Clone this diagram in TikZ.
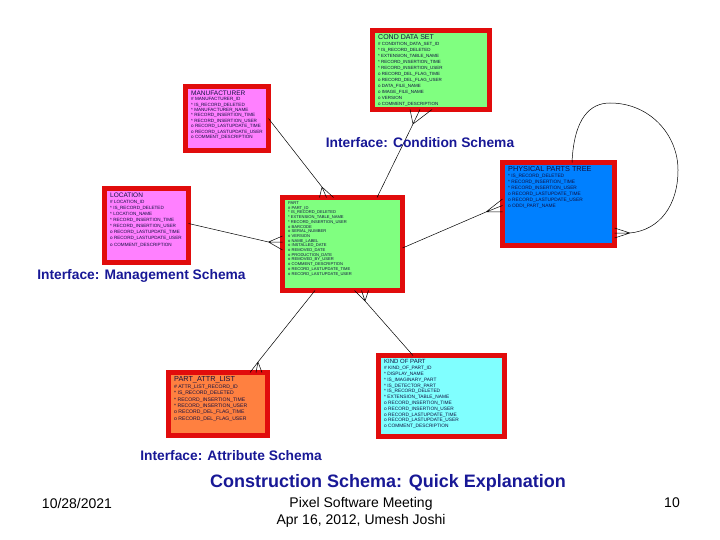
\documentclass[tikz,border=0pt]{standalone}
\usepackage{fontspec}
\setmainfont{Liberation Sans}
\definecolor{boxred}{RGB}{225,12,12}
\definecolor{condgreen}{RGB}{128,255,128}
\definecolor{mfgpink}{RGB}{255,128,255}
\definecolor{treeblue}{RGB}{0,128,255}
\definecolor{attrorange}{RGB}{255,128,64}
\definecolor{kindcyan}{RGB}{128,255,255}
\definecolor{labelblue}{RGB}{24,24,150}
\definecolor{rowink}{RGB}{16,16,64}
\begin{document}
\begin{tikzpicture}[x=1pt,y=-1pt]

    \tikzset{
      entity/.style={
        draw=boxred,
        line width=5pt,
        rectangle,
        inner sep=0pt,
        outer sep=0pt,
      },
      rows/.style={
        anchor=north west,
        inner sep=0pt,
        align=left,
        text=rowink,
      },
      link/.style={
        color=black,
        line width=0.5pt,
      },
      schema/.style={
        text=labelblue,
        font=\bfseries\fontsize{13.8}{16}\selectfont,
      },
      footer/.style={
        font=\fontsize{14}{17}\selectfont,
      },
    }
    \useasboundingbox (0,0) rectangle (720,540);

	% tables
	\node[entity, fill=condgreen, minimum width=117pt, minimum height=79pt] (cond) at (431,70) {};
	\node[rows, font=\fontsize{4.5}{6}\selectfont] (cond-rows) at ([shift={(5.5,4)}]cond.north west) {{\fontsize{7}{7}\selectfont COND DATA SET}\\\# CONDITION\_DATA\_SET\_ID\\* IS\_RECORD\_DELETED\\* EXTENSION\_TABLE\_NAME\\* RECORD\_INSERTION\_TIME\\* RECORD\_INSERTION\_USER\\o RECORD\_DEL\_FLAG\_TIME\\o RECORD\_DEL\_FLAG\_USER\\o DATA\_FILE\_NAME\\o IMAGE\_FILE\_NAME\\o VERSION\\o COMMENT\_DESCRIPTION};

	\node[entity, fill=mfgpink, minimum width=83pt, minimum height=64pt] (manuf) at (227,118.5) {};
	\node[rows, font=\fontsize{4.6}{5.4}\selectfont] (manuf-rows) at ([shift={(5.5,4)}]manuf.north west) {{\fontsize{6.5}{6.5}\selectfont MANUFACTURER}\\\# MANUFACTURER\_ID\\* IS\_RECORD\_DELETED\\* MANUFACTURER\_NAME\\* RECORD\_INSERTION\_TIME\\* RECORD\_INSERTION\_USER\\o RECORD\_LASTUPDATE\_TIME\\o RECORD\_LASTUPDATE\_USER\\o COMMENT\_DESCRIPTION};

	\node[entity, fill=mfgpink, minimum width=84pt, minimum height=74pt] (loc) at (146.5,225.5) {};
	\node[rows, font=\fontsize{4.6}{6.1}\selectfont] (loc-rows) at ([shift={(5.5,4)}]loc.north west) {{\fontsize{6.5}{6.5}\selectfont LOCATION}\\\# LOCATION\_ID\\* IS\_RECORD\_DELETED\\* LOCATION\_NAME\\* RECORD\_INSERTION\_TIME\\* RECORD\_INSERTION\_USER\\o RECORD\_LASTUPDATE\_TIME\\o RECORD\_LASTUPDATE\_USER\\o COMMENT\_DESCRIPTION};

	\node[entity, fill=condgreen, minimum width=120pt, minimum height=93pt] (part) at (342.5,244) {};
	\node[rows, font=\fontsize{4.1}{4.7}\selectfont] (part-rows) at ([shift={(5.5,4)}]part.north west) {PART\\\# PART\_ID\\* IS\_RECORD\_DELETED\\* EXTENSION\_TABLE\_NAME\\* RECORD\_INSERTION\_USER\\o BARCODE\\o SERIAL\_NUMBER\\o VERSION\\o NAME\_LABEL\\o INSTALLED\_DATE\\o REMOVED\_DATE\\o PRODUCTION\_DATE\\o REMOVED\_BY\_USER\\o COMMENT\_DESCRIPTION\\o RECORD\_LASTUPDATE\_TIME\\o RECORD\_LASTUPDATE\_USER};

	\node[entity, fill=treeblue, minimum width=112pt, minimum height=83pt] (ptree) at (558.5,204) {};
	\node[rows, font=\fontsize{4.8}{6}\selectfont] (ptree-rows) at ([shift={(5.5,4)}]ptree.north west) {{\fontsize{7.3}{7.3}\selectfont PHYSICAL PARTS TREE}\\* IS\_RECORD\_DELETED\\* RECORD\_INSERTION\_TIME\\* RECORD\_INSERTION\_USER\\o RECORD\_LASTUPDATE\_TIME\\o RECORD\_LASTUPDATE\_USER\\o ODDI\_PART\_NAME};

	\node[entity, fill=attrorange, minimum width=99pt, minimum height=63pt] (attr) at (218,404) {};
	\node[rows, font=\fontsize{5.1}{6.4}\selectfont] (attr-rows) at ([shift={(5.5,4)}]attr.north west) {{\fontsize{7.3}{7.3}\selectfont PART\_ATTR\_LIST}\\\# ATTR\_LIST\_RECORD\_ID\\* IS\_RECORD\_DELETED\\* RECORD\_INSERTION\_TIME\\* RECORD\_INSERTION\_USER\\o RECORD\_DEL\_FLAG\_TIME\\o RECORD\_DEL\_FLAG\_USER};

	\node[entity, fill=kindcyan, minimum width=126pt, minimum height=81pt] (kind) at (441.5,396) {};
	\node[rows, font=\fontsize{4.8}{5.8}\selectfont] (kind-rows) at ([shift={(5.5,4)}]kind.north west) {{\fontsize{6}{6}\selectfont KIND OF PART}\\\# KIND\_OF\_PART\_ID\\* DISPLAY\_NAME\\* IS\_IMAGINARY\_PART\\* IS\_DETECTOR\_PART\\* IS\_RECORD\_DELETED\\* EXTENSION\_TABLE\_NAME\\o RECORD\_INSERTION\_TIME\\o RECORD\_INSERTION\_USER\\o RECORD\_LASTUPDATE\_TIME\\o RECORD\_LASTUPDATE\_USER\\o COMMENT\_DESCRIPTION};

	% relations, crow's foot at the many end
	\coordinate (mp) at ([shift={(-20.5,-10.5)}]part.north);
	\draw[link] (manuf.east) -- (mp);
	\draw[link] (mp) -- ([xshift=-23]part.north) (mp) -- ([xshift=-16]part.north) (mp) -- ([xshift=-9]part.north);

	\coordinate (cp) at ([shift={(-18,14.5)}]cond.south);
	\draw[link] (cp) -- ([xshift=34.5]part.north);
	\draw[link] (cp) -- ([xshift=-21]cond.south) (cp) -- ([xshift=-11]cond.south) (cp) -- ([xshift=1]cond.south);

	\coordinate (lp) at ([shift={(-14,-2)}]part.west);
	\draw[link] ([yshift=2]loc.east) -- (lp);
	\draw[link] (lp) -- ([yshift=8]part.west) (lp) -- ([yshift=2]part.west) (lp) -- ([yshift=-6]part.west);

	\coordinate (pt) at ([shift={(-16.5,8)}]ptree.west);
	\draw[link] ([yshift=-4]part.east) -- (pt);
	\draw[link] (pt) -- ([yshift=5]ptree.west) (pt) -- ([yshift=-1.5]ptree.west) (pt) -- ([yshift=-8]ptree.west);

	\coordinate (tt) at ([shift={(15.5,29)}]ptree.east);
	\draw[link] ([xshift=13.5]ptree.north) .. controls (574,118) and (590,103) .. (610,103) .. controls (650,103) and (678,135) .. (678,170) .. controls (678,205) and (660,230) .. (tt);
	\draw[link] (tt) -- ([yshift=-24]ptree.east) (tt) -- ([yshift=-29]ptree.east) (tt) -- ([yshift=-34]ptree.east);

	\coordinate (ap) at ([shift={(40,-10.5)}]attr.north);
	\draw[link] ([xshift=-27.5]part.south) -- (ap);
	\draw[link] (ap) -- ([xshift=32]attr.north) (ap) -- ([xshift=38]attr.north) (ap) -- ([xshift=44]attr.north);

	\coordinate (kp) at ([shift={(22.5,10.5)}]part.south);
	\draw[link] (kp) -- ([xshift=-28.5]kind.north);
	\draw[link] (kp) -- ([xshift=12]part.south) (kp) -- ([xshift=19]part.south) (kp) -- ([xshift=26]part.south);

	% schema labels
	\node[schema] (cond-label) at (420,143) {Interface: Condition Schema};
	\node[schema] (mgmt-label) at (141.5,276) {Interface: Management Schema};
	\node[schema] (attr-label) at (231,456) {Interface: Attribute Schema};

	% slide footer
	\node[text=labelblue, font=\bfseries\fontsize{18}{20}\selectfont] (title) at (388,483) {Construction Schema: Quick Explanation};
	\node[footer] (date) at (77,503) {10/28/2021};
	\node[footer, align=center] (meeting) at (361,512.5) {Pixel Software Meeting\\Apr 16, 2012, Umesh Joshi};
	\node[footer] (page) at (672,503) {10};

\end{tikzpicture}
\end{document}
